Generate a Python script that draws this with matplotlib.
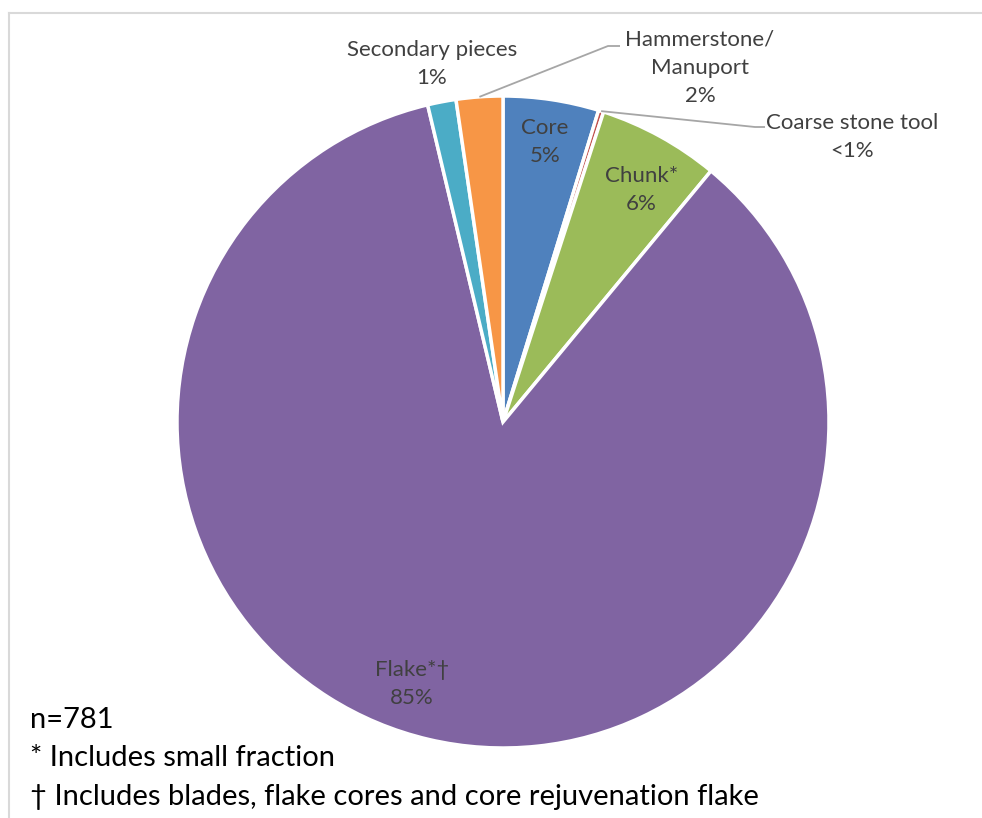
import matplotlib
matplotlib.use("Agg")
import matplotlib.pyplot as plt
import numpy as np

categories = ["Core", "Coarse stone tool", "Chunk*", "Flake*\u2020", "Secondary pieces", "Hammerstone/\nManuport"]
counts = [37, 2, 47, 666, 11, 18]
colors = ["#4F81BD", "#C0504D", "#9BBB59", "#8064A2", "#4BACC6", "#F79646"]
notes = ["n=781", "* Includes small fraction", "\u2020 Includes blades, flake cores and core rejuvenation flake"]

W, H = 982, 818
fig = plt.figure(figsize=(W / 100, H / 100), dpi=100)
ax = fig.add_axes([0, 0, 1, 1])

FONT = ["Lato", "DejaVu Sans"]
TC = "#404040"
FS = 16
LS = 1.5

cx, cy, R = 503, H - 422, 326
wedges, _ = ax.pie(counts, colors=colors, startangle=90, counterclock=False,
                   center=(cx, cy), radius=R, frame=True,
                   wedgeprops=dict(edgecolor="white", linewidth=2.5))
ax.set_xlim(0, W)
ax.set_ylim(0, H)
ax.set_aspect("equal")
ax.axis("off")

total = sum(counts)
def pct(c):
    p = 100 * c / total
    return "<1%" if p < 1 else f"{round(p):.0f}%"

def mid_angle(w):
    return np.deg2rad((w.theta1 + w.theta2) / 2)

# inside labels (radius fraction, angular offset in degrees)
for i, f, da in [(0, 0.87, 0.0), (2, 0.83, -2.0), (3, 0.85, -6.0)]:
    a = mid_angle(wedges[i]) + np.deg2rad(da)
    x = cx + f * R * np.cos(a)
    y = cy + f * R * np.sin(a)
    ax.text(x, y, f"{categories[i]}\n{pct(counts[i])}", ha="center", va="center",
            fontsize=FS, color=TC, family=FONT, linespacing=LS)

def edge_pt(w):
    a = mid_angle(w)
    return cx + R * np.cos(a), cy + R * np.sin(a)

# Secondary pieces (no leader)
ax.text(432, H - 64, f"{categories[4]}\n{pct(counts[4])}", ha="center", va="center",
        fontsize=FS, color=TC, family=FONT, linespacing=LS)

# Hammerstone/Manuport
ex, ey = edge_pt(wedges[5])
ax.plot([ex, 608, 620], [ey, H - 46, H - 46], color="#A6A6A6", lw=1.3, solid_capstyle="butt")
ax.text(700, H - 68, f"{categories[5]}\n{pct(counts[5])}", ha="center", va="center",
        fontsize=FS, color=TC, family=FONT, linespacing=LS)

# Coarse stone tool
ex, ey = edge_pt(wedges[1])
ax.plot([ex, 755, 765], [ey, H - 127, H - 127], color="#A6A6A6", lw=1.3, solid_capstyle="butt")
ax.text(852, H - 137, f"{categories[1]}\n{pct(counts[1])}", ha="center", va="center",
        fontsize=FS, color=TC, family=FONT, linespacing=LS)

# notes
for j, t in enumerate(notes):
    ax.text(30, H - (720 + j * 38.5), t, ha="left", va="center", fontsize=21,
            color="#000000", family=FONT)

# chart border (top and left)
ax.plot([9.5, W], [H - 13, H - 13], color="#D9D9D9", lw=1.5, clip_on=False)
ax.plot([9.5, 9.5], [H - 13, 0], color="#D9D9D9", lw=1.5, clip_on=False)

fig.savefig("out.png", dpi=100, facecolor="white")
